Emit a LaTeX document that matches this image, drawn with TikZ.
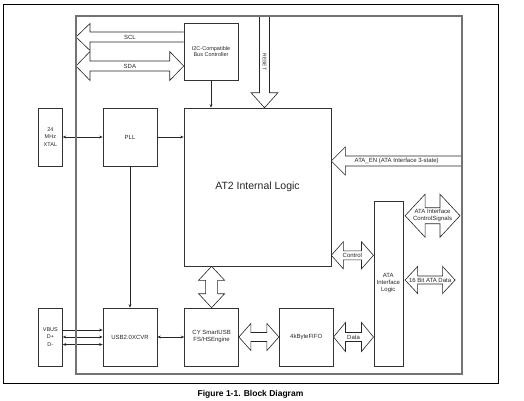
\documentclass[tikz,border=0pt]{standalone}
\usepackage{fontspec}
\setsansfont{Liberation Sans}
\usetikzlibrary{positioning, arrows.meta, calc}

% fat bus arrows: tips/tails, head length, head half width, shaft half width
\newcommand{\busboth}[5]{%
  \draw[bus] (#1) -- ++(#3,-#4) -- ++(0,#4-#5) -- ($(#2)+(-#3,-#5)$)
    -- ++(0,#5-#4) -- (#2) -- ++(-#3,#4) -- ++(0,#5-#4)
    -- ($(#1)+(#3,#5)$) -- ++(0,#4-#5) -- cycle;}
\newcommand{\vbusboth}[5]{%
  \draw[bus] (#1) -- ++(-#4,#3) -- ++(#4-#5,0) -- ($(#2)+(-#5,-#3)$)
    -- ++(#5-#4,0) -- (#2) -- ++(#4,-#3) -- ++(#5-#4,0)
    -- ($(#1)+(#5,#3)$) -- ++(#4-#5,0) -- cycle;}
% single arrows, open at the tail
\newcommand{\busleft}[5]{%
  \draw[bus] ($(#2)+(0,-#5)$) -- ($(#1)+(#3,-#5)$) -- ++(0,#5-#4)
    -- (#1) -- ++(#3,#4) -- ++(0,#5-#4) -- ($(#2)+(0,#5)$);}
\newcommand{\busdown}[5]{%
  \draw[bus] ($(#1)+(-#5,0)$) -- ($(#2)+(-#5,-#3)$) -- ++(#5-#4,0)
    -- (#2) -- ++(#4,-#3) -- ++(#5-#4,0) -- ($(#1)+(#5,0)$);}

\begin{document}
\begin{tikzpicture}[
    x=1pt, y=-1pt,
    >={Stealth[length=3.5pt, width=2.8pt]},
    block/.style={
      draw=black!80,
      line width=0.6pt,
      minimum width=54pt,
      minimum height=58pt,
      inner sep=0pt,
      text=black!85,
      font=\sffamily\fontsize{6}{7}\selectfont,
      align=center,
    },
    narrow/.style={
      block,
      minimum width=24pt,
      font=\sffamily\fontsize{5.5}{7.4}\selectfont,
    },
    sig/.style={draw=black!85, line width=0.6pt},
    bus/.style={draw=black!85, line width=0.6pt, fill=white},
    buslabel/.style={
      font=\sffamily\fontsize{6}{7}\selectfont,
      text=black!85,
      inner sep=0pt,
      align=center,
    },
  ]
  \useasboundingbox (0,0) rectangle (524,400);

  % --- Figure frame and chip outline (outline stroked last) ---
  \node[draw=black, line width=0.6pt, minimum width=495pt, minimum height=379pt] (fig) at (250.5,193.5) {};
  \path node[minimum width=386pt, minimum height=358pt, outer sep=0pt] (chip) at (269,195) {};

  % --- Blocks ---
  \node[block, minimum width=147pt, minimum height=158pt,
        font=\sffamily\fontsize{10.5}{12}\selectfont] (AT2) at (257.5,187) {AT2 Internal Logic};
  \node[block, minimum height=57pt, font=\sffamily\fontsize{5.5}{6}\selectfont] (I2C) at (211,51.5) {%
    I2C-Compatible\\Bus Controller};
  \node[block] (PLL) at (130,137) {PLL};
  \node[narrow, left=40pt of PLL] (XTAL) {24\\MHz\\XTAL};
  \node[block] (USB) at (130,337) {USB2.0XCVR};
  \node[narrow, left=40pt of USB] (VBUS) {VBUS\\D+\\D-};
  \node[block, right=27pt of USB] (CY) {CY SmartUSB\\FS/HSEngine};
  \node[block, right=40pt of CY] (FIFO) {4kByteFIFO};
  \node[block, minimum width=29pt, minimum height=165pt,
        right=40pt of FIFO.south east, anchor=south west] (ATA) {ATA\\Interface\\Logic};

  % --- Thin signal lines ---
  \draw[sig, <->] (XTAL) -- (PLL);
  \draw[sig, ->] (PLL) -- (PLL -| AT2.west);
  \draw[sig, ->] (PLL) -- (USB);
  \draw[sig, ->] (I2C) -- (I2C |- AT2.north);
  \draw[sig, <->] (USB) -- (CY);
  \draw[sig, ->] ($(VBUS.east)+(0,-7)$) -- ($(USB.west)+(0,-7)$);
  \draw[sig, <->] (VBUS) -- (USB);
  \draw[sig, <->] ($(VBUS.east)+(0,7.5)$) -- ($(USB.west)+(0,7.5)$);

  % --- I2C buses ---
  \coordinate (sclL) at ($(chip.west |- I2C.west)+(0,-14.5)$);
  \coordinate (sclR) at ($(I2C.west)+(0,-14.5)$);
  \coordinate (sdaL) at ($(chip.west |- I2C.west)+(0,14.5)$);
  \coordinate (sdaR) at ($(I2C.west)+(0,14.5)$);
  \busleft{sclL}{sclR}{14}{13.5}{5}
  \busboth{sdaL}{sdaR}{14}{14.5}{5}
  \node[buslabel] (scl) at ($(sclL)!.5!(sclR)$) {SCL};
  \node[buslabel] (sda) at ($(sdaL)!.5!(sdaR)$) {SDA};

  % --- RESET ---
  \coordinate (rstT) at ($(chip.north -| AT2.north)+(7,0)$);
  \coordinate (rstB) at ($(AT2.north)+(7,0)$);
  \busdown{rstT}{rstB}{15}{13.5}{5}
  \node[buslabel, rotate=-90, font=\sffamily\fontsize{5}{6}\selectfont] (rst) at ($(rstT)!.5!(rstB)$) {RESET};

  % --- ATA enable ---
  \coordinate (enL) at ($(AT2.east)+(0,-26)$);
  \coordinate (enR) at ($(chip.east |- AT2.east)+(0,-26)$);
  \busleft{enL}{enR}{14}{14}{5}
  \node[buslabel] (en) at ($(enL)!.5!(enR)$) {ATA\_EN (ATA Interface 3-state)};

  % --- Internal data paths ---
  \vbusboth{AT2.south -| CY.north}{CY.north}{14}{13}{6}
  \busboth{CY.east}{FIFO.west}{12}{13.5}{4.5}
  \busboth{FIFO.east}{FIFO.east -| ATA.west}{12}{14.5}{4.5}
  \node[buslabel] (data) at ($(FIFO.east)!.5!(FIFO.east -| ATA.west)$) {Data};
  \coordinate (ctlL) at ($(AT2.south east)+(0,-11)$);
  \busboth{ctlL}{ctlL -| ATA.west}{12}{13.5}{4.5}
  \node[buslabel] (ctl) at ($(ctlL)!.5!(ctlL -| ATA.west)$) {Control};

  % --- ATA side ---
  \coordinate (sigL) at ($(ATA.north east)+(2,15)$);
  \coordinate (sigR) at ($(chip.east |- sigL)+(-2,0)$);
  \busboth{sigL}{sigR}{20}{21.5}{8}
  \node[buslabel] (sigs) at ($(sigL)!.5!(sigR)$) {ATA Interface\\ControlSignals};
  \coordinate (datL) at ($(ATA.east)+(2,-3.5)$);
  \coordinate (datR) at ($(datL)+(50,0)$);
  \busboth{datL}{datR}{12.5}{13.5}{4}
  \node[buslabel] (dat16) at ($(datL)!.5!(datR)$) {16 Bit ATA Data};

  % --- Chip outline on top ---
  \draw[black!55, line width=1.1pt] (chip.south west) rectangle (chip.north east);

  % --- Caption ---
  \node[below=7pt of fig, inner sep=0pt, font=\sffamily\bfseries\fontsize{8.5}{10}\selectfont] (cap) {%
    Figure 1-1. Block Diagram};

\end{tikzpicture}
\end{document}
